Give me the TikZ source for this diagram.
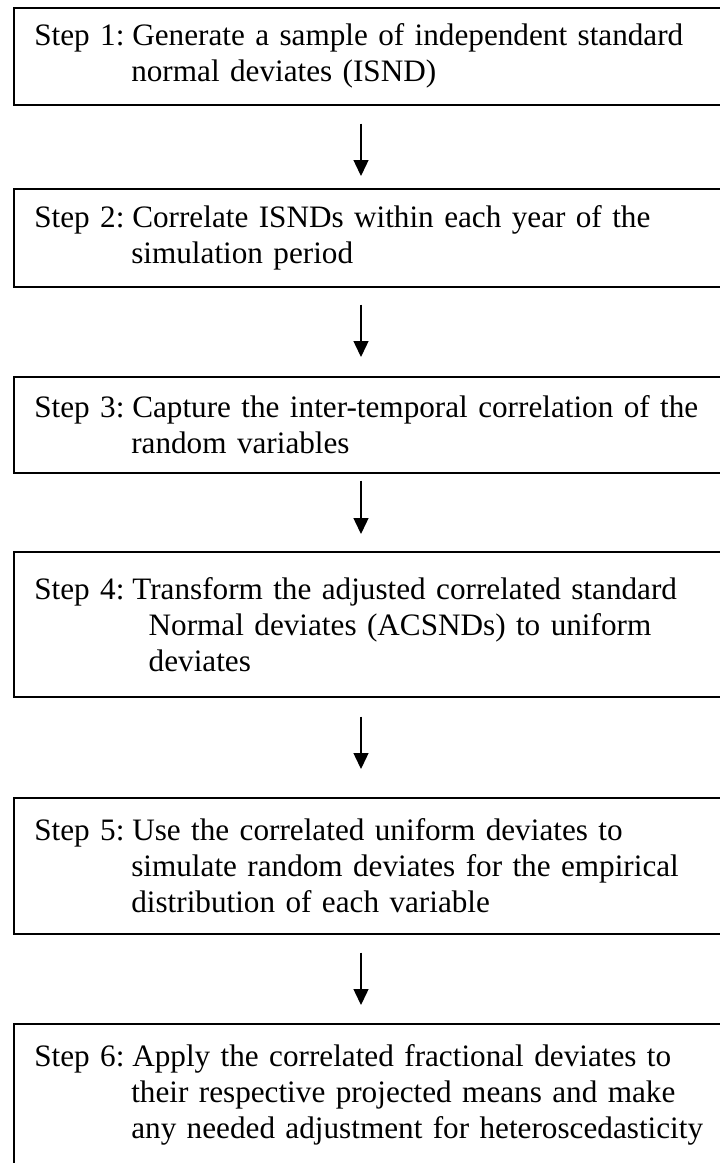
\documentclass[tikz,border=0pt]{standalone}
\usepackage{fontspec}
\setmainfont{Liberation Serif}
\usetikzlibrary{arrows.meta,positioning}

% "Step n:" set in a fixed-width slot, so the wrapped lines hang under the text
\newcommand{\steplbl}[1]{\makebox[98pt][l]{Step #1:}}
\newcommand{\contindent}[1][97pt]{\hspace*{#1}}

\begin{document}
\begin{tikzpicture}[x=1pt, y=-1pt,
		stepbox/.style={draw, line width=1.6pt, anchor=north west, inner xsep=20.5pt, inner ysep=0pt,
			text width=720pt, align=left, font=\fontsize{31.2}{36}\selectfont},
		flow/.style={line width=1.4pt, -{Triangle[width=15pt,length=16pt]}}]
	\useasboundingbox (0,0) rectangle (720,1163);
	\clip (0,0) rectangle (720,1163);
	\node [stepbox, minimum height=97pt] (s1) at (13,7)
		{\steplbl{1}Generate a sample of independent standard\\ \contindent normal deviates (ISND)};
	\node [stepbox, minimum height=98pt] (s2) at (13,188)
		{\steplbl{2}Correlate ISNDs within each year of the\\ \contindent simulation period};
	\node [stepbox, minimum height=96pt] (s3) at (13,376)
		{\steplbl{3}Capture the inter-temporal correlation of the\\ \contindent random variables};
	\node [stepbox, minimum height=145pt] (s4) at (13,551)
		{\steplbl{4}Transform the adjusted correlated standard\\ \contindent[104pt] Normal deviates (ACSNDs) to uniform\\ \contindent[104pt] deviates};
	\node [stepbox, minimum height=136pt] (s5) at (13,797)
		{\steplbl{5}Use the correlated uniform deviates to\\ \contindent simulate random deviates for the empirical\\ \contindent distribution of each variable};
	\node [stepbox, minimum height=142pt] (s6) at (13,1023)
		{\steplbl{6}Apply the correlated fractional deviates to\\ \contindent their respective projected means and make\\ \contindent any needed adjustment for heteroscedasticity};
	% arrows all run down one column
	\coordinate (col) at (361,0);
	\foreach \a/\b/\p/\q in {s1/s2/18/12, s2/s3/17/19, s3/s4/7/17, s4/s5/19/28, s5/s6/18/18}
		\draw [flow, shorten <=\p pt, shorten >=\q pt] (\a.south -| col) -- (\b.north -| col);
\end{tikzpicture}
\end{document}
